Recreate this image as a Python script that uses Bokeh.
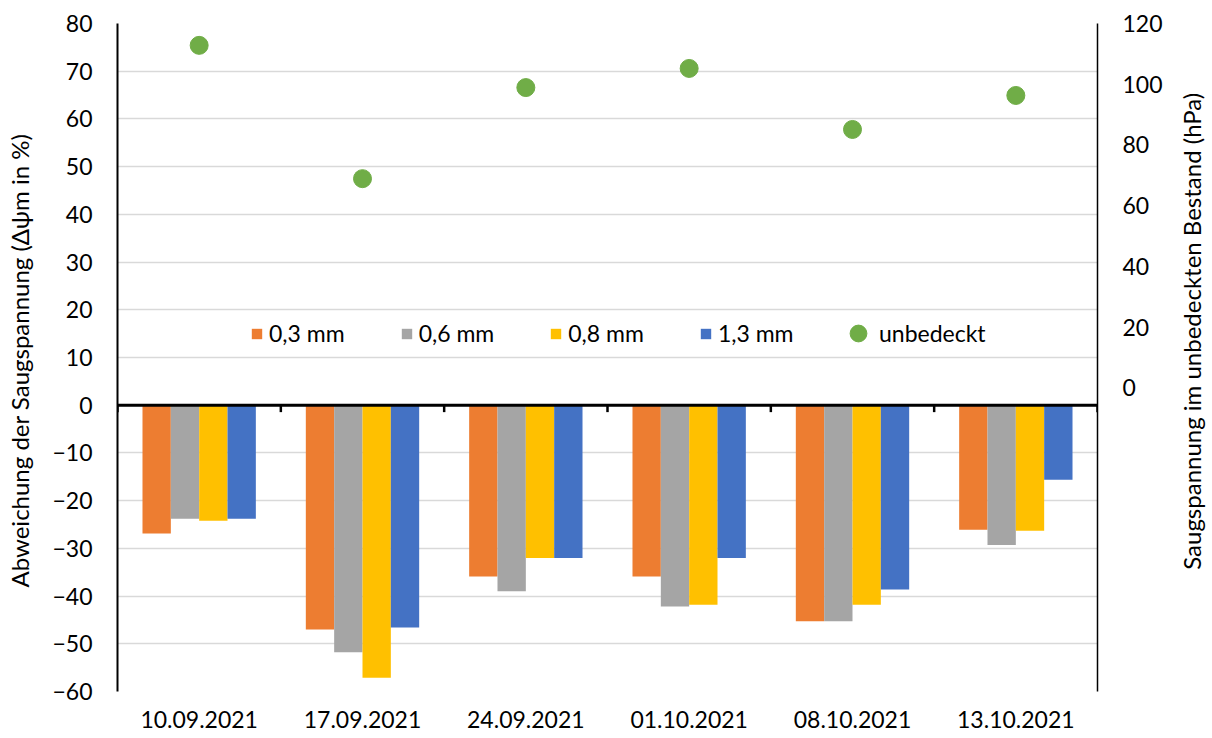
import math
from bokeh.plotting import figure
from bokeh.layouts import row
from bokeh.models import (ColumnDataSource, Range1d, LinearAxis, FixedTicker, Span,
                          Legend, LegendItem)
from bokeh.core.properties import value
from bokeh.embed import file_html
from bokeh.resources import INLINE

# ---- data ----
dates = ["10.09.2021", "17.09.2021", "24.09.2021", "01.10.2021", "08.10.2021", "13.10.2021"]
mm03 = [-26.9, -47.0, -35.9, -35.9, -45.3, -26.1]
mm06 = [-23.8, -51.8, -39.0, -42.2, -45.3, -29.3]
mm08 = [-24.2, -57.1, -32.0, -41.8, -41.8, -26.3]
mm13 = [-23.8, -46.6, -32.0, -32.0, -38.6, -15.6]
unbedeckt = [112.8, 68.9, 98.9, 105.2, 85.1, 96.3]
series_labels = ["0,3 mm", "0,6 mm", "0,8 mm", "1,3 mm"]
left_ticks = [-60, -50, -40, -30, -20, -10, 0, 10, 20, 30, 40, 50, 60, 70, 80]
right_ticks = [0, 20, 40, 60, 80, 100, 120]
left_title = "Abweichung der Saugspannung  (\u0394\u03c8m in %)"
right_title = "Saugspannung im unbedeckten Bestand (hPa)"

colors = ["#ED7D31", "#A5A5A5", "#FFC000", "#4472C4"]
green = "#70AD47"
FONT = "Lato"
FS = "23px"

n = len(dates)
idx = list(range(n))
bw = 0.1735

W, H = 1212, 738
W2 = 40  # narrow strip on the right holding the right-axis title

p = figure(width=W - W2, height=H, output_backend="svg", toolbar_location=None,
           x_range=Range1d(-0.5, n - 0.5), y_range=Range1d(-60, 80),
           min_border_left=117, min_border_right=75, min_border_top=23,
           min_border_bottom=47)
p.outline_line_color = None
p.background_fill_color = "white"
p.extra_y_ranges = {"right": Range1d(-100, 120)}

# grid
p.xgrid.grid_line_color = None
p.ygrid.ticker = FixedTicker(ticks=left_ticks)
p.ygrid.grid_line_color = "#D9D9D9"
p.ygrid.grid_line_width = 1.5

# bars
renderers = []
for k, (vals, col) in enumerate(zip([mm03, mm06, mm08, mm13], colors)):
    off = (k - 1.5) * bw
    src = ColumnDataSource(dict(x=[i + off for i in idx], top=vals))
    r = p.vbar(x="x", top="top", bottom=0, width=bw, source=src,
               fill_color=col, line_color=None)
    renderers.append(r)

# zero axis line and category boundary ticks
p.add_layout(Span(location=0, dimension="width", line_color="black", line_width=3))
bounds = [i - 0.5 for i in range(n + 1)]
p.segment(x0=bounds, x1=bounds, y0=[0] * len(bounds), y1=[-1.45] * len(bounds),
          line_color="black", line_width=2.5)

# scatter on right axis
ssrc = ColumnDataSource(dict(x=idx, y=unbedeckt))
sc = p.scatter(x="x", y="y", source=ssrc, y_range_name="right", size=18,
               fill_color=green, line_color=green, marker="circle")

# x axis
xa = p.xaxis[0]
xa.ticker = FixedTicker(ticks=idx)
xa.major_label_overrides = {i: d for i, d in zip(idx, dates)}
xa.axis_line_color = None
xa.major_tick_line_color = None
xa.major_tick_out = 0
xa.major_tick_in = 0
xa.minor_tick_line_color = None
xa.major_label_text_font = FONT
xa.major_label_text_font_size = FS
xa.major_label_text_color = "black"
xa.major_label_standoff = 19

# left axis
ya = p.yaxis[0]
ya.ticker = FixedTicker(ticks=left_ticks)
ya.axis_line_color = "black"
ya.axis_line_width = 2
ya.major_tick_line_color = None
ya.major_tick_out = 0
ya.major_tick_in = 0
ya.minor_tick_line_color = None
ya.major_label_text_font = FONT
ya.major_label_text_font_size = FS
ya.major_label_text_color = "black"
ya.major_label_standoff = 25
ya.axis_label = left_title
ya.axis_label_text_font = FONT
ya.axis_label_text_font_size = "24px"
ya.axis_label_text_font_style = "normal"
ya.axis_label_text_color = "black"
ya.axis_label_standoff = 15

# right axis
ra = LinearAxis(y_range_name="right", ticker=FixedTicker(ticks=right_ticks))
ra.axis_line_color = "black"
ra.axis_line_width = 1.5
ra.major_tick_line_color = None
ra.major_tick_out = 0
ra.major_tick_in = 0
ra.minor_tick_line_color = None
ra.major_label_text_font = FONT
ra.major_label_text_font_size = FS
ra.major_label_text_color = "black"
ra.major_label_text_align = "left"
ra.major_label_standoff = 25
p.add_layout(ra, "right")

# legends
leg1 = Legend(items=[LegendItem(label=l, renderers=[r]) for l, r in zip(series_labels, renderers)],
              orientation="horizontal", location=(133, 344), glyph_width=13, glyph_height=13,
              label_standoff=6, spacing=55, padding=0, margin=0,
              background_fill_alpha=0, border_line_color=None,
              label_text_font=FONT, label_text_font_size=FS, label_text_color="black")
leg2 = Legend(items=[LegendItem(label="unbedeckt", renderers=[sc])],
              orientation="horizontal", location=(720, 337), glyph_width=42, glyph_height=42,
              label_standoff=-7, spacing=0, padding=0, margin=0,
              background_fill_alpha=0, border_line_color=None,
              label_text_font=FONT, label_text_font_size=FS, label_text_color="black")
p.add_layout(leg1)
p.add_layout(leg2)

# narrow strip with the right-axis title, reading bottom-to-top
p2 = figure(width=W2, height=H, output_backend="svg", toolbar_location=None,
            x_range=Range1d(0, W2), y_range=Range1d(0, H),
            min_border=0, min_border_left=0, min_border_right=0,
            min_border_top=0, min_border_bottom=0)
p2.axis.visible = False
p2.grid.visible = False
p2.outline_line_color = None
p2.text(x=[19], y=[H - 340], text=[right_title], angle=math.pi / 2,
        text_align="center", text_baseline="middle",
        text_font=value(FONT), text_font_size=value("24px"), text_color="black")

layout = row(p, p2, spacing=0)
open("out.html", "w").write(file_html(layout, INLINE))
